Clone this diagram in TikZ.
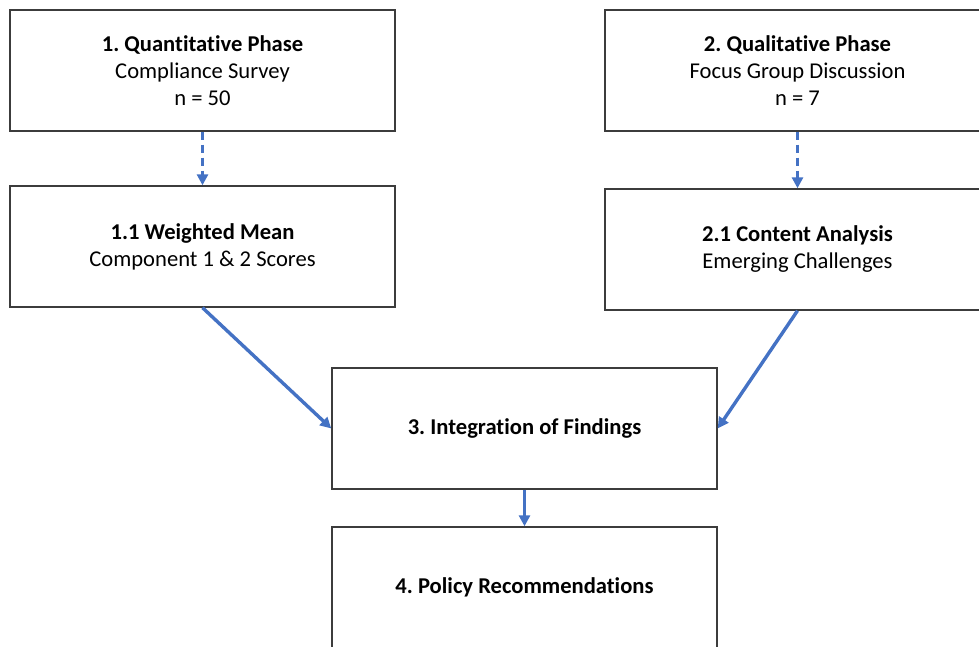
\documentclass[tikz,border=0pt]{standalone}
\usepackage{fontspec}
\setmainfont{Carlito}[Ligatures=NoCommon]
\usepackage{xcolor}
\usetikzlibrary{arrows.meta,positioning}

\begin{document}
\frenchspacing
\begin{tikzpicture}[node distance = 176pt]
    \definecolor{myblue}{RGB}{68,114,196}
    \definecolor{myframe}{RGB}{60,60,60}

    \fontsize{22.6pt}{27pt}\selectfont  % font size
    \tikzstyle{phase}=[rectangle,draw=myframe,line width=1.4pt,fill=white,
        minimum width=385pt,minimum height=121pt,align=center,inner sep=0pt]  % boxes
    \tikzstyle{flow}=[-{Triangle[length=11pt,width=11pt]},myblue,line width=3.4pt]  % solid connector
    \tikzstyle{flowd}=[flow,dash pattern=on 8pt off 5pt]  % dashed connector

    % page frame
    \clip (0,0) rectangle (979pt,646pt);

    % nodes
    \node[phase] (quant) at (202.5pt,575.5pt) {\textbf{1. Quantitative Phase}\\Compliance Survey\\n = 50};
    \node[phase] (qual) at (797.5pt,575.5pt) {\textbf{2. Qualitative Phase}\\Focus Group Discussion\\n = 7};
    \node[phase,below of=quant] (mean) {\textbf{1.1 Weighted Mean}\\Component 1 \& 2 Scores};
    \node[phase,below of=qual,node distance=179pt] (content) {\textbf{2.1 Content Analysis}\\Emerging Challenges};
    \node[phase] (integ) at (524.5pt,217.5pt) {\textbf{3. Integration of Findings}};
    \node[phase,below of=integ,node distance=159pt] (policy) {\textbf{4. Policy Recommendations}};

    % connectors
    \draw[flowd] (quant) -- (mean);
    \draw[flowd] (qual) -- (content);
    \draw[flow] (mean.south) -- (integ.west);
    \draw[flow] (content.south) -- (integ.east);
    \draw[flow] (integ) -- (policy);
\end{tikzpicture}
\end{document}
